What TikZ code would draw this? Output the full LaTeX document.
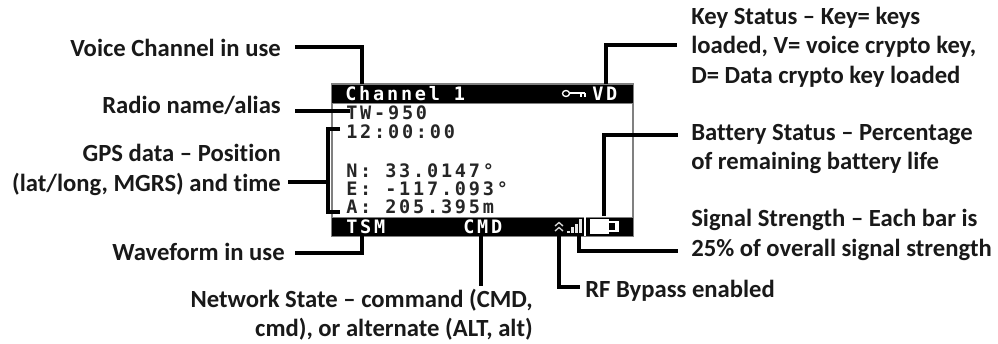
\documentclass[tikz,border=0pt]{standalone}
\usepackage{fontspec}
\setmainfont{Carlito}[BoldFont=Carlito Bold,Ligatures=NoCommon]
\newfontfamily\lcd{DejaVu Sans Mono}[LetterSpace=15]
\begin{document}
\begin{tikzpicture}[x=0.75pt,y=-0.75pt,
  lab/.style={font=\bfseries\fontsize{18.5}{22}\selectfont,inner sep=0pt,text=black!90},
  lcdtext/.style={font=\lcd\bfseries\fontsize{13.9}{15}\selectfont,inner sep=0pt,anchor=base west,text=black!85},
  lcdinv/.style={lcdtext,text=white},
  conn/.style={draw=black,line width=3pt,line cap=butt,line join=miter},
  frame/.style={draw=black!50,line width=0.8pt}]
\useasboundingbox (0,0) rectangle (998,343);
% screen
\draw[frame] (332,84) rectangle (633,236);
\fill[black] (332,84) rectangle (633,103);
\fill[black] (332,217) rectangle (633,236);
\draw[black!50,line width=0.7pt] (332,84)--(633,84) (332,103)--(633,103) (332,217)--(633,217);
\coordinate (scrTopA) at (362,84);
\coordinate (scrTopB) at (606,84);
% LCD text
\node[lcdinv] (ch) at (345,100) {Channel 1};
\node[lcdinv] (vd) at (592,100) {VD};
\node[lcdtext] (nm) at (346,119) {TW-950};
\node[lcdtext] (tm) at (346,138) {12:00:00};
\node[lcdtext] (nn) at (346,177) {N: 33.0147°};
\node[lcdtext] (ee) at (346,195) {E: -117.093°};
\node[lcdtext] (aa) at (346,213) {A: 205.395m};
\node[lcdinv] (ts) at (346,233) {TSM};
\node[lcdinv] (cm) at (463,233) {CMD};
% key icon
\draw[white,line width=1pt] (566,93.5) ellipse (3.5 and 3);
\draw[white,line width=1.2pt] (570,93) -- (585,93) (581,93) -- (581,97) (585,93) -- (585,97);
% chevrons
\draw[white!85!black,line width=1pt] (555,226) -- (559,222.5) -- (563,226) (555,231) -- (559,227.5) -- (563,231);
% signal bars
\fill[white!90!black] (567,231) rectangle (569.5,233);
\fill[white!90!black] (571,227) rectangle (573.5,233);
\fill[white!90!black] (575,224) rectangle (577.5,233);
\fill[white!90!black] (579,219) rectangle (582,233);
% battery
\fill[white] (584,217) rectangle (586,236);
\fill[white] (590,219) rectangle (609,234);
\fill[white] (609,221) rectangle (619,232);
\fill[black] (609,223) rectangle (615,230);
% labels
\node[lab,anchor=east] (voice) at (281,48) {Voice Channel in use};
\node[lab,anchor=east] (radio) at (281,105) {Radio name/alias};
\node[lab,align=right,anchor=east] (gps) at (281,170) {GPS data – Position\\(lat/long, MGRS) and time};
\node[lab,anchor=east] (wave) at (285,252) {Waveform in use};
\node[lab,align=right,anchor=east] (net) at (533,315) {Network State – command (CMD,\\cmd), or alternate (ALT, alt)};
\node[lab,anchor=west] (rf) at (585,291) {RF Bypass enabled};
\node[lab,align=left,anchor=west] (key) at (691,47) {Key Status – Key= keys\\loaded, V= voice crypto key,\\D= Data crypto key loaded};
\node[lab,align=left,anchor=west] (batt) at (691,149) {Battery Status – Percentage\\of remaining battery life};
\node[lab,align=left,anchor=west] (sig) at (691,235) {Signal Strength – Each bar is\\25\% of overall signal strength};
% connectors
\coordinate (gpsT) at (340,129);
\coordinate (gpsB) at (340,212);
\coordinate (voiceEnd) at (295,47);
\coordinate (radioEnd) at (295,111);
\coordinate (gpsEnd) at (288,182);
\coordinate (waveEnd) at (295,253);
\coordinate (rfEnd) at (580,287);
\coordinate (sigEnd) at (678,251);
\coordinate (battEnd) at (678,135);
\coordinate (keyEnd) at (677,45);
\draw[conn] (voiceEnd) -| (scrTopA);
\draw[conn] (radioEnd) -- (350,111);
\draw[conn] (gpsT) -| (328,212) -- (gpsB);
\draw[conn] (gpsEnd) -- (328,182);
\coordinate (tsB) at (362,236);
\draw[conn] (waveEnd) -| (tsB);
\coordinate (cmB) at (481,236);
\draw[conn] (cmB) -- (481,286);
\coordinate (rfB) at (559,236);
\draw[conn] (rfB) |- (rfEnd);
\coordinate (sgB) at (579,236);
\draw[conn] (sgB) |- (sigEnd);
\coordinate (btB) at (604,216);
\draw[conn] (btB) |- (battEnd);
\draw[conn] (scrTopB) |- (keyEnd);
\end{tikzpicture}
\end{document}
